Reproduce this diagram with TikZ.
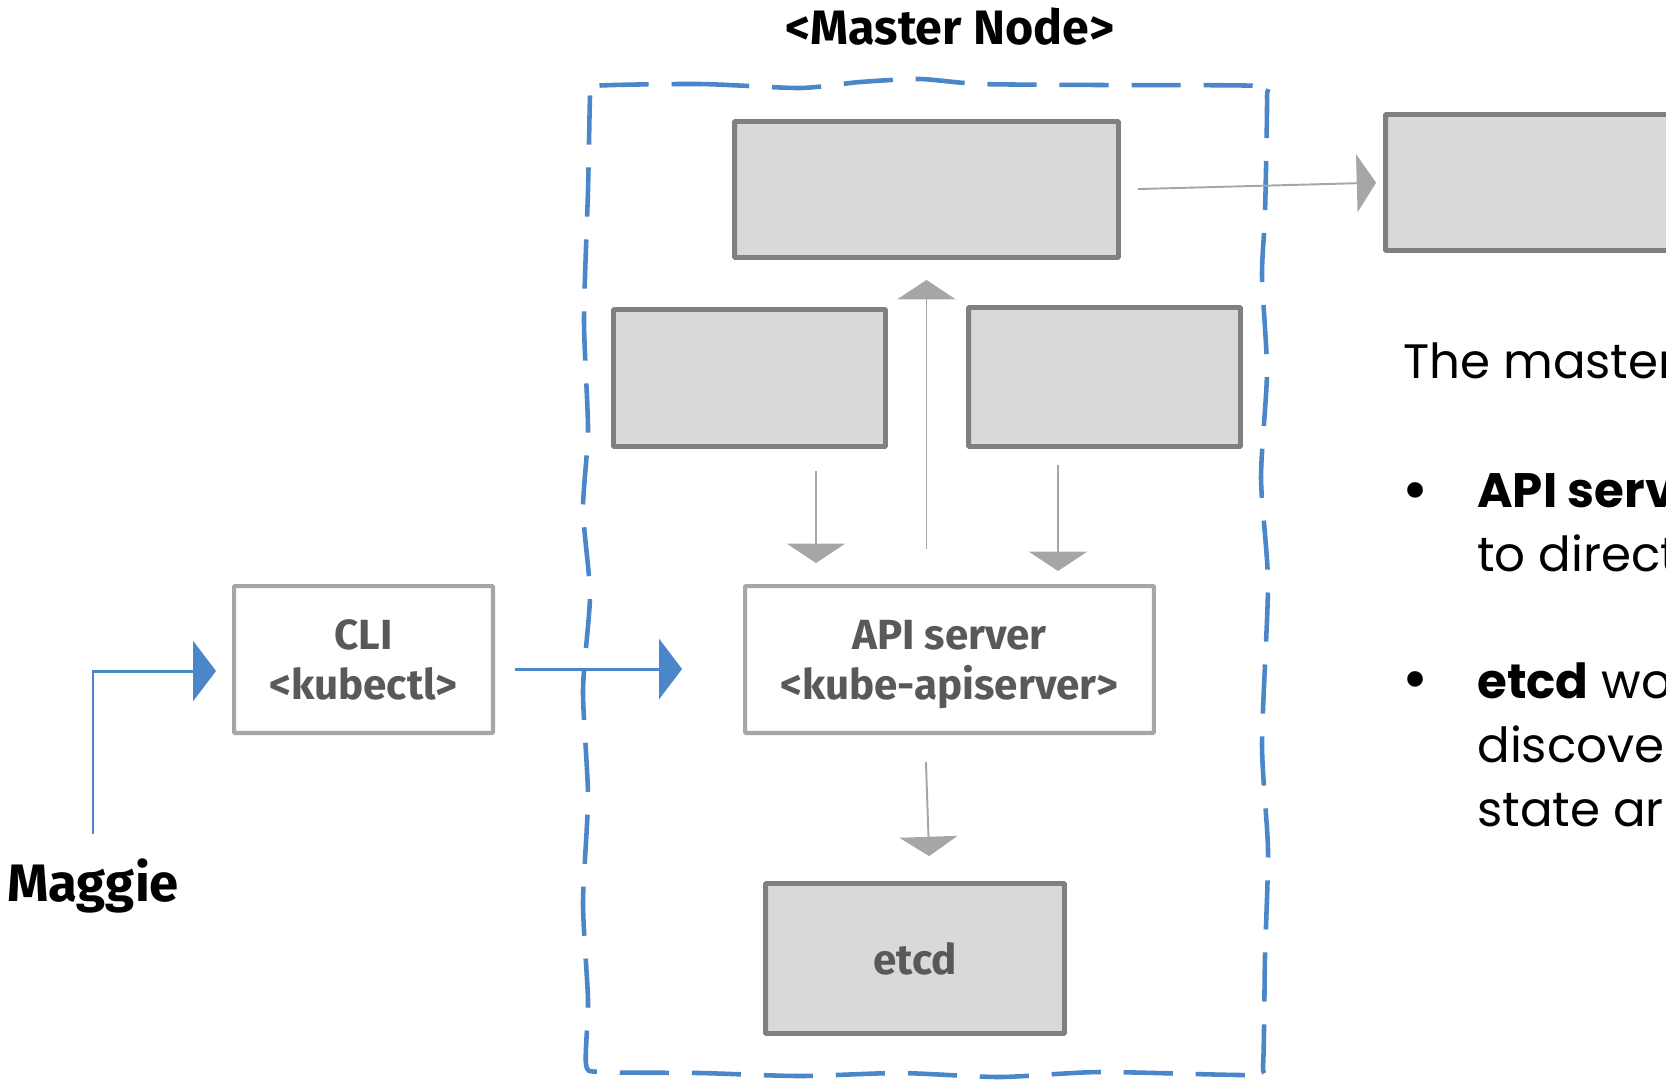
\documentclass[tikz,border=0pt]{standalone}
\usepackage{fontspec}
\setmainfont{Fira Sans}
\newfontfamily\bodyfont{Poppins}
\usetikzlibrary{arrows.meta}
\definecolor{kblue}{HTML}{4A86C8}
\definecolor{boxfill}{HTML}{D9D9D9}
\definecolor{boxline}{HTML}{808080}
\definecolor{arrowgray}{HTML}{A6A6A6}
\definecolor{labelgray}{HTML}{595959}

\begin{document}
\begin{tikzpicture}[x=0.02cm,y=-0.02cm,
    mbox/.style={draw=boxline,line width=2.8pt,fill=boxfill,inner sep=0pt,rounded corners=0.5pt,
      font=\bfseries\fontsize{24}{28.5}\selectfont,text=labelgray,align=center},
    lbox/.style={mbox,draw=arrowgray,line width=2.3pt,fill=white,text depth=0pt},
    garrow/.style={draw=arrowgray,line width=1.1pt,-{Triangle[length=11pt,width=33pt]}},
    barrow/.style={draw=kblue,line width=1.7pt,-{Triangle[length=13pt,width=34pt]}},
    mframe/.style={draw=kblue,line width=2.6pt,dash pattern=on 28pt off 13pt},
    notetext/.style={font=\bodyfont\fontsize{27.5}{36.3}\selectfont,anchor=base west,align=left,inner sep=0pt},
    dotmark/.style={notetext,font=\bodyfont\fontsize{36}{36}\selectfont}]
  \useasboundingbox (0,0) rectangle (1666,1080);
  \clip (0,0) rectangle (1666,1080);

  \node[font=\bfseries\fontsize{27.5}{32}\selectfont,anchor=base] (title) at (950,44) {<Master Node>};
  \draw[mframe] plot[smooth cycle,tension=0.4] coordinates {
      (592,86) (700,84) (800,88) (860,82) (920,79) (980,84) (1100,85) (1262,86)
      (1267,96) (1265,213) (1262,276) (1267,372) (1261,478) (1268,584) (1262,744) (1268,850) (1265,956) (1263,1066)
      (1255,1075) (1100,1072) (1000,1077) (900,1073) (800,1076) (700,1073) (600,1072)
      (586,1064) (588,1000) (583,903) (588,797) (583,690) (590,595) (583,510) (588,430) (584,320) (588,190) (590,96)};

  \node[mbox,minimum width=7.68cm,minimum height=2.72cm] (upper) at (926.5,189.5) {};
  \node[mbox,minimum width=7.68cm,minimum height=2.72cm] (worker) at (1577.5,182.5) {};
  \node[mbox,minimum width=5.44cm,minimum height=2.74cm] (midleft) at (749.5,378) {};
  \node[mbox,minimum width=5.44cm,minimum height=2.78cm] (midright) at (1104.5,377) {};
  \node[lbox,minimum width=8.18cm,minimum height=2.94cm] (api) at (949.5,659.5) {API server\\<kube-apiserver>};
  \node[mbox,minimum width=5.98cm,minimum height=3cm] (etcd) at (915,958.5) {etcd};
  \node[lbox,minimum width=5.18cm,minimum height=2.94cm] (cli) at (363.5,659.5) {CLI\\<kubectl>};
  \node[font=\bfseries\fontsize{30}{34}\selectfont,anchor=base,inner sep=0pt] (maggie) at (93,901) {Maggie};

  \draw[garrow,shorten <=0.34cm,shorten >=0.14cm] (upper.east) -- (worker.west);
  \draw[garrow,shorten <=0.7cm,shorten >=0.4cm] (api.north -| upper.south) -- (upper.south);
  \draw[garrow,shorten <=0.44cm,shorten >=0.42cm] ([xshift=1.33cm]midleft.south) -- ([xshift=1.33cm]midleft.south |- api.north);
  \draw[garrow,shorten <=0.32cm,shorten >=0.26cm] ([xshift=-0.93cm]midright.south) -- ([xshift=-0.93cm]midright.south |- api.north);
  \draw[garrow,shorten <=0.54cm,shorten >=0.5cm] ([xshift=-0.49cm]api.south) -- ([xshift=0.3cm]etcd.north);
  \draw[barrow,shorten <=0.4cm,shorten >=1.22cm] ([yshift=-0.19cm]cli.east) -- ([yshift=-0.19cm]api.west);
  \draw[barrow,shorten <=0.48cm,shorten >=0.32cm] (maggie.north) |- ([yshift=-0.23cm]cli.west);

  % multi-line notes sit on the baseline of their last line
  \node[notetext] (intro) at (1403,378) {The master};
  \node[dotmark] (dotA) at (1402,511) {•};
  \node[notetext] (itemA) at (1477,571) {\textbf{API serv}\\to direct};
  \node[dotmark] (dotB) at (1402,700) {•};
  \node[notetext] (itemB) at (1477,826) {\textbf{etcd} wo\\discove\\state ar};
\end{tikzpicture}
\end{document}
